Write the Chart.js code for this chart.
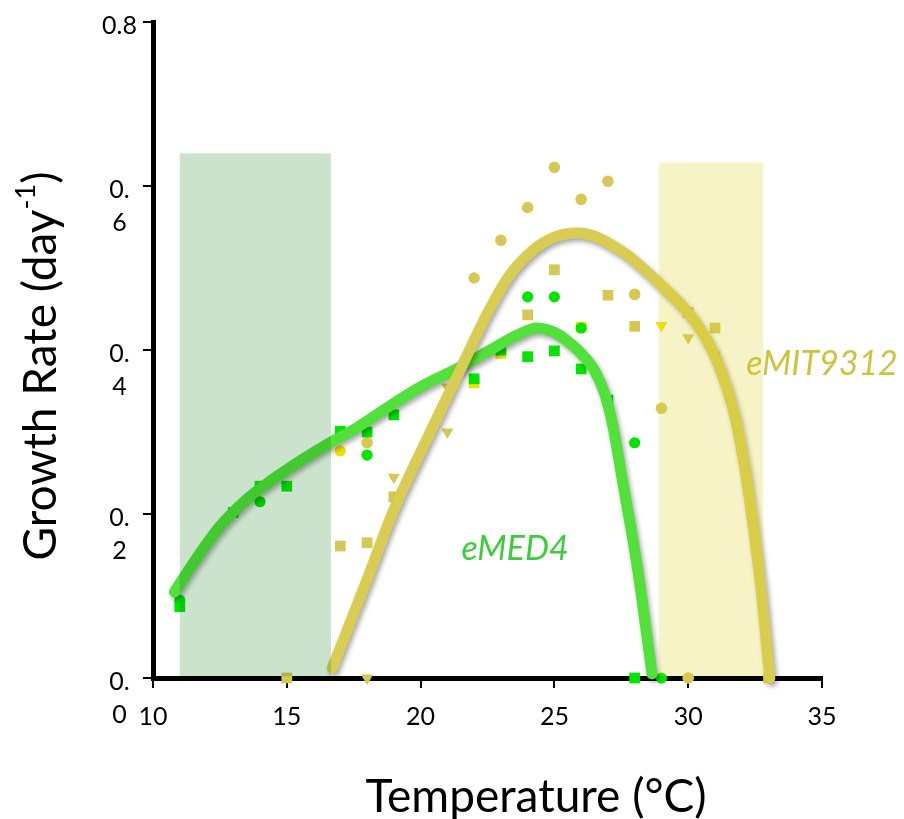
<!DOCTYPE html>
<html>
<head>
<meta charset="utf-8">
<style>
html,body{margin:0;padding:0;background:#ffffff;}
#wrap{position:relative;width:904px;height:819px;}
</style>
<script src="https://cdn.jsdelivr.net/npm/chart.js@4.4.1/dist/chart.umd.min.js"></script>
</head>
<body>
<div id="wrap"><canvas id="c"></canvas></div>
<script>
// ---- axis ticks ----
const xTickStep = 5;
const xMin = 10, xMax = 35;
const yMin = 0, yMax = 0.8, yTickStep = 0.2;
const yTickLabels = [['', '0.', '0'], ['', '0.', '2'], ['', '0.', '4'], ['', '0.', '6'], '0.8'];

// ---- eMED4 observations ----
const medSquareX = [11, 13, 14, 15, 17, 18, 19, 22, 23, 24, 25, 26, 27, 28];
const medSquareY = [0.087, 0.202, 0.234, 0.234, 0.301, 0.300, 0.321, 0.365, 0.400, 0.392, 0.399, 0.377, 0.339, 0];
const medCircleX = [11, 14, 18, 24, 25, 26, 28, 29];
const medCircleY = [0.095, 0.215, 0.272, 0.465, 0.465, 0.427, 0.287, 0];

// ---- bright yellow observations ----
const yelCircleX = [17];
const yelCircleY = [0.277];
const yelSquareX = [22, 23, 26, 33];
const yelSquareY = [0.360, 0.396, 0.428, 0];
const yelTriX = [29];
const yelTriY = [0.430];

// ---- eMIT9312 observations ----
const mitCircleX = [18, 22, 23, 24, 25, 26, 27, 28, 29, 30];
const mitCircleY = [0.287, 0.488, 0.534, 0.574, 0.623, 0.584, 0.606, 0.468, 0.329, 0];
const mitSquareX = [15, 17, 18, 19, 24, 25, 27, 28, 30, 31];
const mitSquareY = [0, 0.161, 0.165, 0.221, 0.443, 0.498, 0.467, 0.429, 0.446, 0.427];
const mitTriX = [18, 19, 21, 21, 30, 31];
const mitTriY = [0, 0.245, 0.300, 0.355, 0.415, 0.394];

// ---- fitted curves ----
const medFitX = [10.8, 11.5, 12.5, 13.5, 14.5, 15.5, 16.5, 17.5, 18.9, 20.1, 21.4, 22.6, 23.6, 24.35, 25.1, 25.6, 26.0, 26.5, 26.9, 27.2, 27.55, 28.1, 28.65];
const medFitY = [0.105, 0.140, 0.185, 0.218, 0.243, 0.265, 0.285, 0.303, 0.333, 0.357, 0.378, 0.400, 0.418, 0.427, 0.420, 0.408, 0.396, 0.375, 0.345, 0.305, 0.240, 0.135, 0.005];
const mitFitX = [16.7, 18.0, 19.0, 20.04, 21.54, 22.5, 23.3, 24.2, 25.0, 25.9, 27.45, 28.9, 30.3, 31.1, 31.75, 32.2, 32.7, 33.05];
const mitFitY = [0.012, 0.120, 0.205, 0.278, 0.380, 0.445, 0.490, 0.522, 0.538, 0.543, 0.522, 0.482, 0.433, 0.385, 0.318, 0.238, 0.116, 0.0];

// ---- shaded temperature bands ----
const bandStart = [11.0, 28.9];
const bandEnd = [16.65, 32.8];
const bandTop = [0.640, 0.629];

// ---- curve labels ----
const curveLabelText = ['eMED4', 'eMIT9312'];
const curveLabelX = [23.53, 35.0];
const curveLabelY = [0.157, 0.383];

// ---- styles ----
const bandColors = ['rgba(10,120,15,0.21)', 'rgba(222,210,40,0.26)'];
const curveLabelColors = ['#3ccc3c', '#cfc23c'];
const FONT = 'Lato, "Open Sans", "DejaVu Sans", sans-serif';

const pts = (xs, ys) => xs.map((x, i) => ({ x: x, y: ys[i] }));

const shadowIdx = new Set([0, 1]);

const overlay = {
  id: 'overlay',
  beforeDatasetDraw(chart, args) {
    if (shadowIdx.has(args.index)) {
      const ctx = chart.ctx;
      ctx.save();
      ctx.shadowColor = 'rgba(0,0,0,0.35)';
      ctx.shadowBlur = 5;
      ctx.shadowOffsetX = 2;
      ctx.shadowOffsetY = 3;
    }
  },
  afterDatasetDraw(chart, args) {
    if (shadowIdx.has(args.index)) chart.ctx.restore();
  },
  afterDatasetsDraw(chart) {
    const { ctx, scales: { x, y } } = chart;
    ctx.save();
    for (let i = 0; i < bandStart.length; i++) {
      const l = x.getPixelForValue(bandStart[i]);
      const r = x.getPixelForValue(bandEnd[i]);
      const t = y.getPixelForValue(bandTop[i]);
      const b = y.getPixelForValue(0) - 2;
      ctx.fillStyle = bandColors[i];
      ctx.fillRect(l, t, r - l, b - t);
    }
    ctx.font = 'italic 34px ' + FONT;
    ctx.textAlign = 'center';
    ctx.textBaseline = 'middle';
    for (let i = 0; i < curveLabelText.length; i++) {
      ctx.fillStyle = curveLabelColors[i];
      ctx.fillText(curveLabelText[i], x.getPixelForValue(curveLabelX[i]), y.getPixelForValue(curveLabelY[i]));
    }
    // axis titles
    ctx.fillStyle = '#000';
    ctx.font = '46px ' + FONT;
    ctx.textAlign = 'center';
    ctx.textBaseline = 'middle';
    ctx.fillText('Temperature (°C)', 536, 797);

    ctx.translate(41, 366);
    ctx.rotate(-Math.PI / 2);
    const main = 'Growth Rate (day';
    const sup = '-1';
    const close = ')';
    ctx.font = '46px ' + FONT;
    const wMain = ctx.measureText(main).width;
    const wClose = ctx.measureText(close).width;
    ctx.font = '27px ' + FONT;
    const wSup = ctx.measureText(sup).width;
    const total = wMain + wSup + wClose;
    let cx = -total / 2;
    ctx.textAlign = 'left';
    ctx.font = '46px ' + FONT;
    ctx.fillText(main, cx, 0);
    cx += wMain;
    ctx.font = '27px ' + FONT;
    ctx.fillText(sup, cx, -15);
    cx += wSup;
    ctx.font = '46px ' + FONT;
    ctx.fillText(close, cx, 0);
    ctx.restore();
  }
};

const green = '#00e600';
const tan = '#d6c854';
const yellow = '#f0e000';

new Chart(document.getElementById('c'), {
  type: 'scatter',
  data: {
    datasets: [
      { label: 'eMIT9312 fit', data: pts(mitFitX, mitFitY), showLine: true, borderColor: '#d8cc52', borderWidth: 11,
        pointRadius: 0, cubicInterpolationMode: 'monotone', borderCapStyle: 'round', borderJoinStyle: 'round', order: 0, clip: false },
      { label: 'eMED4 fit', data: pts(medFitX, medFitY), showLine: true, borderColor: '#52e03a', borderWidth: 11,
        pointRadius: 0, cubicInterpolationMode: 'monotone', borderCapStyle: 'round', borderJoinStyle: 'round', order: 1, clip: false },
      { label: 'eMED4 squares', data: pts(medSquareX, medSquareY), pointStyle: 'rect', pointRadius: 7.6,
        backgroundColor: green, borderWidth: 0, order: 2, clip: false },
      { label: 'eMED4 circles', data: pts(medCircleX, medCircleY), pointStyle: 'circle', pointRadius: 5.6,
        backgroundColor: green, borderWidth: 0, order: 3, clip: false },
      { label: 'yellow squares', data: pts(yelSquareX, yelSquareY), pointStyle: 'rect', pointRadius: 7.6,
        backgroundColor: yellow, borderWidth: 0, order: 4, clip: false },
      { label: 'yellow circles', data: pts(yelCircleX, yelCircleY), pointStyle: 'circle', pointRadius: 5.6,
        backgroundColor: yellow, borderWidth: 0, order: 5, clip: false },
      { label: 'yellow triangles', data: pts(yelTriX, yelTriY), pointStyle: 'triangle', pointRotation: 180, pointRadius: 7,
        backgroundColor: yellow, borderWidth: 0, order: 6, clip: false },
      { label: 'eMIT9312 circles', data: pts(mitCircleX, mitCircleY), pointStyle: 'circle', pointRadius: 5.8,
        backgroundColor: tan, borderWidth: 0, order: 7, clip: false },
      { label: 'eMIT9312 squares', data: pts(mitSquareX, mitSquareY), pointStyle: 'rect', pointRadius: 7.6,
        backgroundColor: tan, borderWidth: 0, order: 8, clip: false },
      { label: 'eMIT9312 triangles', data: pts(mitTriX, mitTriY), pointStyle: 'triangle', pointRotation: 180, pointRadius: 7,
        backgroundColor: tan, borderWidth: 0, order: 9, clip: false }
    ]
  },
  options: {
    responsive: true,
    maintainAspectRatio: false,
    animation: false,
    devicePixelRatio: 1,
    layout: { padding: { top: 22, right: 82, left: 0, bottom: 0 } },
    plugins: { legend: { display: false }, tooltip: { enabled: false } },
    elements: { point: { hoverRadius: 0 } },
    scales: {
      x: {
        type: 'linear', min: xMin, max: xMax,
        afterFit(scale) { scale.height = 141; },
        ticks: { stepSize: xTickStep, color: '#000', font: { family: FONT, size: 25 }, padding: 14, maxRotation: 0 },
        grid: { drawOnChartArea: false, drawTicks: true, tickLength: 10, color: '#000', lineWidth: 2 },
        border: { display: true, color: '#000', width: 5 }
      },
      y: {
        type: 'linear', min: yMin, max: yMax,
        afterFit(scale) { scale.width = 153; },
        ticks: {
          stepSize: yTickStep, color: '#000', crossAlign: 'center', padding: 6, labelOffset: 4,
          font: { family: FONT, size: 25, lineHeight: 1.3 },
          callback: (v, i) => yTickLabels[i]
        },
        grid: { drawOnChartArea: false, drawTicks: true, tickLength: 10, color: '#000', lineWidth: 2 },
        border: { display: true, color: '#000', width: 5 }
      }
    }
  },
  plugins: [overlay]
});
</script>
</body>
</html>
